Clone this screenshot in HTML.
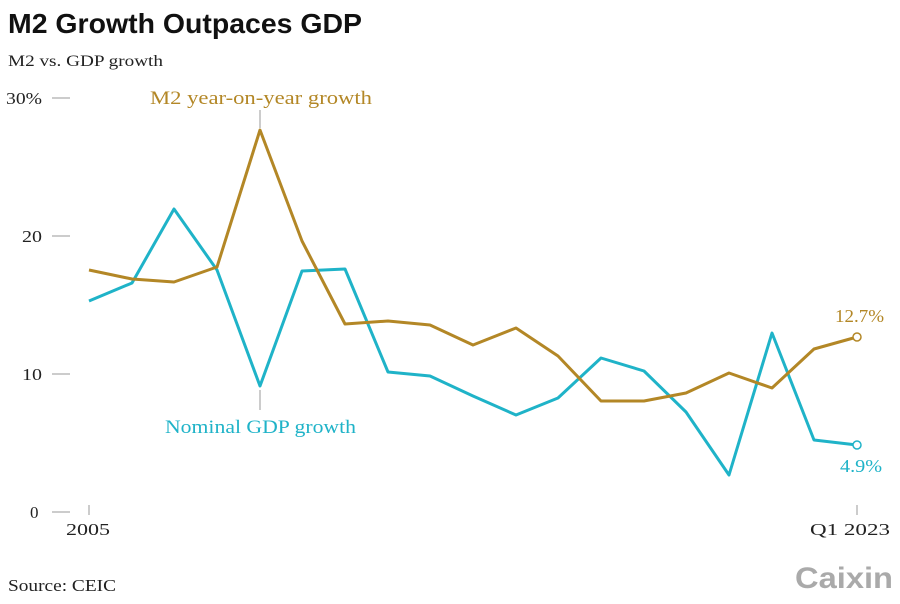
<!DOCTYPE html>
<html><head><meta charset="utf-8"><style>
body{margin:0;background:#fff;}
svg text{font-family:"Liberation Serif",serif;}
</style></head><body>
<svg width="900" height="599" viewBox="0 0 900 599" xmlns="http://www.w3.org/2000/svg">
<rect width="900" height="599" fill="#fff"/>
<text x="8" y="33" style="font-family:'Liberation Sans',sans-serif" font-size="28" font-weight="bold" fill="#111" textLength="354" lengthAdjust="spacingAndGlyphs">M2 Growth Outpaces GDP</text>
<text x="8" y="66" font-size="16" fill="#222" textLength="155" lengthAdjust="spacingAndGlyphs">M2 vs. GDP growth</text>
<g stroke="#999" stroke-width="1">
<line x1="52" y1="98" x2="70" y2="98"/>
<line x1="52" y1="236" x2="70" y2="236"/>
<line x1="52" y1="374" x2="70" y2="374"/>
<line x1="52" y1="512" x2="70" y2="512"/>
<line x1="89" y1="505" x2="89" y2="515"/>
<line x1="857" y1="505" x2="857" y2="515"/>
<line x1="260" y1="110" x2="260" y2="128"/>
<line x1="260" y1="390" x2="260" y2="410"/>
</g>
<g font-size="17" fill="#222">
<text x="6" y="104" textLength="36" lengthAdjust="spacingAndGlyphs">30%</text>
<text x="22" y="242" textLength="20" lengthAdjust="spacingAndGlyphs">20</text>
<text x="22" y="380" textLength="20" lengthAdjust="spacingAndGlyphs">10</text>
<text x="30" y="518">0</text>
<text x="66" y="535" textLength="44" lengthAdjust="spacingAndGlyphs">2005</text>
<text x="810" y="535" textLength="80" lengthAdjust="spacingAndGlyphs">Q1 2023</text>
<text x="8" y="591" textLength="108" lengthAdjust="spacingAndGlyphs">Source: CEIC</text>
</g>
<text x="150" y="104" font-size="19" fill="#b38726" textLength="222" lengthAdjust="spacingAndGlyphs">M2 year-on-year growth</text>
<text x="165" y="433" font-size="19" fill="#1fb3c8" textLength="191" lengthAdjust="spacingAndGlyphs">Nominal GDP growth</text>
<text x="835" y="322" font-size="18" fill="#b38726" textLength="49" lengthAdjust="spacingAndGlyphs">12.7%</text>
<text x="840" y="472" font-size="18" fill="#1fb3c8" textLength="42" lengthAdjust="spacingAndGlyphs">4.9%</text>
<polyline fill="none" stroke="#1fb3c8" stroke-width="3" stroke-linejoin="round" points="89,301 132,283 174,209 217,270 260,386 302,271 345,269 388,372 430,376 473,396 516,415 558,398 601,358 644,371 686,412 729,475 772,333 814,440 857,445"/>
<polyline fill="none" stroke="#b38726" stroke-width="3" stroke-linejoin="round" points="89,270 132,279 174,282 217,267 260,130 302,241 345,324 388,321 430,325 473,345 516,328 558,356 601,401 644,401 686,393 729,373 772,388 814,349 857,337"/>
<circle cx="857" cy="337" r="4" fill="#fff" stroke="#b38726" stroke-width="1.5"/>
<circle cx="857" cy="445" r="4" fill="#fff" stroke="#1fb3c8" stroke-width="1.5"/>
<text x="795" y="588" style="font-family:'Liberation Sans',sans-serif" font-size="30" font-weight="bold" fill="#aaa" textLength="98" lengthAdjust="spacingAndGlyphs">Caixin</text>
</svg>
</body></html>
